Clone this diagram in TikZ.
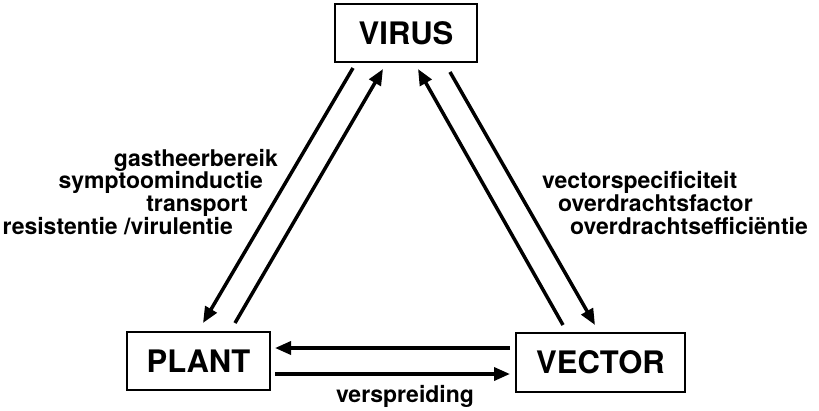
\documentclass[tikz,border=0pt]{standalone}
\usepackage{fontspec}
\setmainfont{TeX Gyre Heros}
\usetikzlibrary{arrows.meta}
\begin{document}
\begin{tikzpicture}[x=1pt,y=-1pt,
  lbl/.style={inner sep=0pt, font=\fontsize{23}{27}\selectfont\bfseries},
  box/.style={draw, line width=2pt, inner sep=0pt, font=\fontsize{31}{35}\selectfont\bfseries},
  arr/.style={line width=3.5pt, -{Triangle[length=16pt,width=13pt]}}]
\useasboundingbox (0,0) rectangle (819,410);
\node[box, minimum width=142pt, minimum height=58pt] (virus) at (406,33) {VIRUS};
\node[box, minimum width=143pt, minimum height=58pt] (plant) at (198.5,361) {PLANT};
\node[box, minimum width=169pt, minimum height=59pt] (vector) at (600.5,362.5) {VECTOR};
% endpoints
\coordinate (vpA) at (353,68);  \coordinate (plA) at (203,323);
\coordinate (plB) at (235,323); \coordinate (vpB) at (383,69);
\coordinate (veC) at (563,325); \coordinate (vvC) at (418,69);
\coordinate (vvD) at (450,72);  \coordinate (veD) at (595,325);
\coordinate (veE) at (510,348); \coordinate (plE) at (275,348);
\coordinate (plF) at (275,374); \coordinate (veF) at (510,374);
\draw[arr] (vpA) -- (plA);
\draw[arr] (plB) -- (vpB);
\draw[arr] (veC) -- (vvC);
\draw[arr] (vvD) -- (veD);
\draw[arr] (veE) -- (plE);
\draw[arr] (plF) -- (veF);
% labels
\node[lbl, anchor=base east] (l1) at (278,166) {gastheerbereik};
\node[lbl, anchor=base east] (l2) at (263,188) {symptoominductie};
\node[lbl, anchor=base east] (l3) at (248,211) {transport};
\node[lbl, anchor=base east] (l4) at (233,234) {resistentie /virulentie};
\node[lbl, anchor=base west] (r1) at (542,188) {vectorspecificiteit};
\node[lbl, anchor=base west] (r2) at (558,211) {overdrachtsfactor};
\node[lbl, anchor=base west] (r3) at (570,234) {overdrachtsefficiëntie};
\node[lbl, anchor=base] (b1) at (405,402) {verspreiding};
\end{tikzpicture}
\end{document}
